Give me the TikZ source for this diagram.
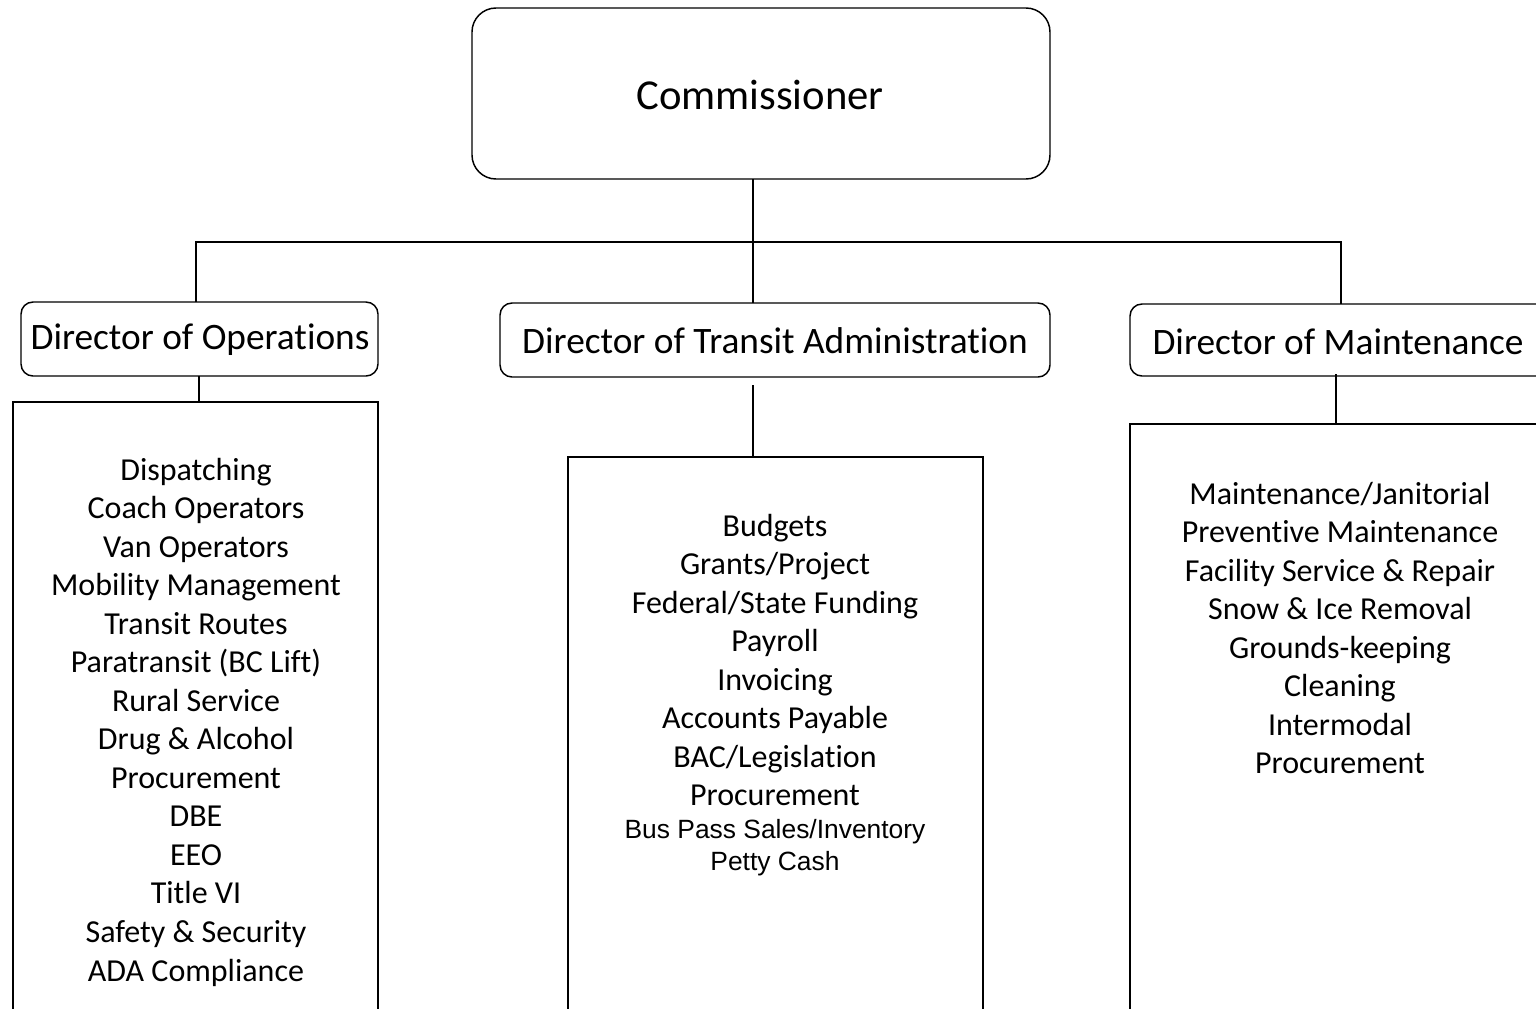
\documentclass[tikz,border=0pt]{standalone}
\usepackage{fontspec}
\setmainfont{Carlito}[Ligatures=NoCommon]
\newfontfamily\arialfont{Liberation Sans}
\begin{document}
\begin{tikzpicture}[x=0.75pt,y=-0.75pt,
  rbox/.style={draw,line width=1.1pt,rounded corners=#1},
  sqbox/.style={draw,line width=1.3pt},
  conn/.style={line width=0.9pt},
  lst/.style={align=center,font=\fontsize{24}{28.9}\selectfont,inner sep=0pt},
  dirt/.style={font=\fontsize{28}{32}\selectfont,inner sep=0pt},
]
\path[use as bounding box,clip] (0,0) rectangle (1536,1008);
\draw[rbox=18pt] (472,8) rectangle (1050,179);
\node[font=\fontsize{32}{38}\selectfont,inner sep=0pt] (comm) at (760,95) {Commissioner};
\coordinate (commS) at (753,179);

\draw[rbox=9pt] (21,302) rectangle (378,376);
\node[dirt] (dop) at (200,340) {Director of Operations};
\coordinate (dopN) at (196,302);
\coordinate (dopS) at (199,376);

\draw[rbox=9pt] (500,303) rectangle (1050,377);
\node[dirt] (dta) at (775,341) {Director of Transit Administration};
\coordinate (dtaN) at (753,303);
\coordinate (dtaS) at (753,385);

\draw[rbox=9pt] (1130,304) rectangle (1560,376);
\node[dirt] (dma) at (1338,342) {Director of Maintenance};
\coordinate (dmaN) at (1341,304);
\coordinate (dmaS) at (1336,374);

\draw[sqbox] (13,1020) -- (13,402) -- (378,402) -- (378,1020);
\coordinate (opsN) at (199,402);
\draw[sqbox] (568,1020) -- (568,457) -- (983,457) -- (983,1020);
\coordinate (taN) at (753,457);
\draw[sqbox] (1130,1020) -- (1130,424) -- (1560,424);
\coordinate (maN) at (1336,424);

\coordinate (bus) at (753,242);
\draw[conn] (commS) -- (dtaN);
\draw[conn] (dopN) |- (bus) -| (dmaN);
\draw[conn] (dopS) -- (opsN);
\draw[conn] (dtaS) -- (taN);
\draw[conn] (dmaS) -- (maN);

\node[lst] (opsl) at (196,722) {Dispatching\\Coach Operators\\Van Operators\\Mobility Management\\Transit Routes\\Paratransit (BC Lift)\\Rural Service\\Drug \& Alcohol\\Procurement\\DBE\\EEO\\Title VI\\Safety \& Security\\ADA Compliance};
\node[lst] (tal) at (775,660) {Budgets\\Grants/Project\\Federal/State Funding\\Payroll\\Invoicing\\Accounts Payable\\BAC/Legislation\\Procurement};
\node[align=center,inner sep=0pt,font=\arialfont\fontsize{19.8}{24}\selectfont] (ta2) at (775,848) {Bus Pass Sales/Inventory\\Petty Cash};
\node[lst] (mal) at (1340,628) {Maintenance/Janitorial\\Preventive Maintenance\\Facility Service \& Repair\\Snow \& Ice Removal\\Grounds-keeping\\Cleaning\\Intermodal\\Procurement};
\end{tikzpicture}
\end{document}
